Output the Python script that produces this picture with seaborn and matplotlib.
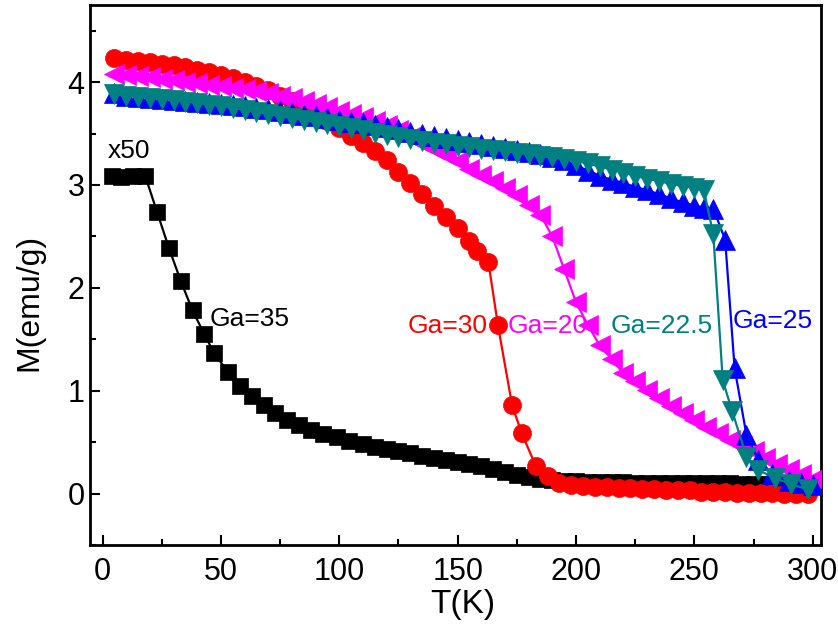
import matplotlib
matplotlib.use("Agg")
import matplotlib.pyplot as plt
import seaborn as sns
from matplotlib.ticker import MultipleLocator

# ---------------- data ----------------
# Ga=35 (x50), black squares
T_35 = [4, 8, 13, 18, 23, 28, 33, 38, 43, 47, 53, 58, 63, 68, 73, 78, 83, 88, 93, 99,
        104, 110, 115, 120, 125, 130, 135, 140, 145, 150, 155, 160, 165, 170, 175, 180,
        185, 190, 195, 200, 205, 210, 215, 220, 225, 230, 235, 240, 245, 250, 255, 260,
        265, 270, 275, 280, 285, 290, 295, 300]
M_35 = [3.09, 3.08, 3.09, 3.09, 2.74, 2.39, 2.07, 1.78, 1.55, 1.37, 1.18, 1.05, 0.95, 0.86,
        0.78, 0.72, 0.67, 0.62, 0.58, 0.55, 0.51, 0.48, 0.45, 0.43, 0.41, 0.39, 0.37, 0.35,
        0.33, 0.31, 0.29, 0.27, 0.24, 0.21, 0.18, 0.16, 0.14, 0.13, 0.12, 0.12, 0.11, 0.11,
        0.11, 0.11, 0.10, 0.10, 0.10, 0.10, 0.10, 0.10, 0.10, 0.10, 0.10, 0.09, 0.09, 0.09,
        0.09, 0.09, 0.09, 0.09]

# Ga=30, red circles
T_30 = [5, 10, 15, 20, 25, 30, 35, 40, 45, 50, 55, 60, 65, 70, 75, 80, 85, 90, 95, 100,
        105, 110, 115, 120, 125, 130, 135, 140, 145, 150, 155, 158, 163, 167, 173, 177,
        183, 188, 193, 198, 203, 208, 213, 218, 223, 228, 233, 238, 243, 248, 253, 258,
        263, 268, 273, 278, 283, 288, 293, 298]
M_30 = [4.23, 4.22, 4.21, 4.20, 4.18, 4.17, 4.15, 4.12, 4.10, 4.07, 4.04, 4.00, 3.96, 3.92,
        3.87, 3.82, 3.76, 3.69, 3.62, 3.55, 3.48, 3.41, 3.33, 3.24, 3.13, 3.02, 2.91, 2.80,
        2.69, 2.58, 2.46, 2.36, 2.25, 1.64, 0.86, 0.59, 0.27, 0.17, 0.10, 0.08, 0.07, 0.06,
        0.06, 0.05, 0.05, 0.04, 0.04, 0.03, 0.03, 0.03, 0.02, 0.02, 0.02, 0.01, 0.01, 0.01,
        0.01, 0.00, 0.00, 0.00]

# Ga=20, magenta left triangles
T_20 = [5, 10, 15, 20, 25, 30, 35, 40, 45, 50, 55, 60, 65, 70, 75, 80, 85, 90, 95, 100,
        105, 110, 115, 120, 125, 130, 135, 140, 145, 150, 155, 160, 165, 170, 175, 180,
        185, 190, 195, 200, 205, 210, 215, 220, 225, 230, 235, 240, 245, 250, 255, 260,
        265, 270, 275, 280, 285, 290, 295, 300]
M_20 = [4.08, 4.07, 4.06, 4.05, 4.03, 4.02, 4.00, 3.99, 3.97, 3.96, 3.94, 3.93, 3.91, 3.89,
        3.87, 3.85, 3.82, 3.79, 3.76, 3.72, 3.69, 3.66, 3.62, 3.58, 3.53, 3.47, 3.41, 3.35,
        3.29, 3.23, 3.16, 3.10, 3.04, 2.97, 2.90, 2.81, 2.71, 2.50, 2.18, 1.86, 1.64, 1.44,
        1.31, 1.17, 1.09, 1.01, 0.93, 0.85, 0.78, 0.72, 0.65, 0.59, 0.52, 0.46, 0.41, 0.35,
        0.29, 0.24, 0.19, 0.14]

# Ga=25, blue up triangles
T_25 = [5, 10, 15, 20, 25, 30, 35, 40, 45, 50, 55, 60, 65, 70, 75, 80, 85, 90, 95, 100,
        105, 110, 115, 120, 125, 130, 135, 140, 145, 150, 155, 160, 165, 170, 175, 180,
        185, 190, 195, 200, 205, 210, 215, 220, 225, 230, 235, 240, 245, 250, 254, 258,
        263, 267, 272, 277, 283, 290, 295, 300]
M_25 = [3.89, 3.87, 3.86, 3.85, 3.84, 3.83, 3.82, 3.81, 3.80, 3.79, 3.78, 3.77, 3.75, 3.74,
        3.72, 3.70, 3.68, 3.67, 3.65, 3.63, 3.61, 3.60, 3.58, 3.56, 3.54, 3.52, 3.50, 3.48,
        3.46, 3.44, 3.42, 3.40, 3.38, 3.36, 3.34, 3.32, 3.30, 3.27, 3.24, 3.19, 3.14, 3.09,
        3.05, 3.02, 2.98, 2.95, 2.91, 2.87, 2.83, 2.80, 2.78, 2.77, 2.47, 1.22, 0.57, 0.33,
        0.19, 0.12, 0.10, 0.08]

# Ga=22.5, teal down triangles
T_225 = [5, 10, 15, 20, 25, 30, 35, 40, 45, 50, 55, 60, 65, 70, 75, 80, 85, 90, 95, 100,
         105, 110, 115, 120, 125, 130, 135, 140, 145, 150, 155, 160, 165, 170, 175, 180,
         185, 190, 195, 200, 205, 210, 215, 220, 225, 230, 235, 240, 245, 250, 254, 258,
         262, 266, 272, 277, 284, 291, 298]
M_225 = [3.88, 3.87, 3.86, 3.85, 3.84, 3.83, 3.81, 3.80, 3.78, 3.77, 3.75, 3.73, 3.71, 3.69,
         3.67, 3.65, 3.63, 3.61, 3.59, 3.57, 3.55, 3.53, 3.51, 3.49, 3.47, 3.45, 3.43, 3.41,
         3.40, 3.38, 3.37, 3.35, 3.34, 3.33, 3.31, 3.30, 3.28, 3.27, 3.25, 3.23, 3.21, 3.18,
         3.15, 3.12, 3.09, 3.06, 3.04, 3.01, 2.99, 2.97, 2.95, 2.52, 1.10, 0.80, 0.36, 0.23,
         0.15, 0.09, 0.04]

# annotation texts
labels = ["x50", "Ga=35", "Ga=30", "Ga=20", "Ga=22.5", "Ga=25"]
label_colors = ["black", "black", "#FF0000", "#FF00FF", "#008080", "#0000FF"]

# ---------------- plotting ----------------
sns.set_style("ticks")
plt.rcParams["font.family"] = ["Liberation Sans", "DejaVu Sans"]
plt.rcParams["text.color"] = "black"
plt.rcParams["axes.labelcolor"] = "black"
plt.rcParams["xtick.color"] = "black"
plt.rcParams["ytick.color"] = "black"

fig = plt.figure(figsize=(8.38, 6.31), dpi=100)
ax = fig.add_axes([90 / 838, 1 - 545 / 631, 731 / 838, 540 / 631])

series = [
    (T_35, M_35, "#000000", "s", 11),
    (T_30, M_30, "#FF0000", "o", 13),
    (T_20, M_20, "#FF00FF", "<", 14.5),
    (T_25, M_25, "#0000FF", "^", 14.5),
    (T_225, M_225, "#008080", "v", 14.5),
]
for i, (t, m, c, mk, ms) in enumerate(series):
    sns.lineplot(x=t, y=m, color=c, marker=mk, markersize=ms,
                 markeredgecolor=c, markeredgewidth=0.5, linewidth=1.6,
                 sort=False, estimator=None, ax=ax, zorder=2 + i)

ax.set_xlim(-5.3, 303.5)
ax.set_ylim(-0.5, 4.75)
ax.xaxis.set_major_locator(MultipleLocator(50))
ax.xaxis.set_minor_locator(MultipleLocator(25))
ax.yaxis.set_major_locator(MultipleLocator(1))
ax.yaxis.set_minor_locator(MultipleLocator(0.5))

ax.tick_params(which="both", direction="in", top=False, right=False,
               width=1.5, color="black", labelcolor="black")
ax.tick_params(which="major", length=7.5, labelsize=22)
ax.tick_params(which="minor", length=4)
ax.tick_params(axis="x", which="major", pad=9)
ax.tick_params(axis="y", which="major", pad=4)

for sp in ax.spines.values():
    sp.set_linewidth(2)
    sp.set_color("black")
    sp.set_visible(True)

ax.set_xlabel("T(K)", fontsize=24, color="black")
ax.set_ylabel("M(emu/g)", fontsize=23, color="black")
ax.xaxis.set_label_coords(0.51, -0.082)
ax.yaxis.set_label_coords(-0.063, 0.45)

pos = [(2.3, 3.26), (45.1, 1.63), (129.0, 1.565), (171.2, 1.565), (214.8, 1.565), (266.2, 1.61)]
for (x, y), s, c in zip(pos, labels, label_colors):
    ax.text(x, y, s, color=c, fontsize=19, ha="left", va="baseline", zorder=10)

fig.savefig("out.png", dpi=100)
